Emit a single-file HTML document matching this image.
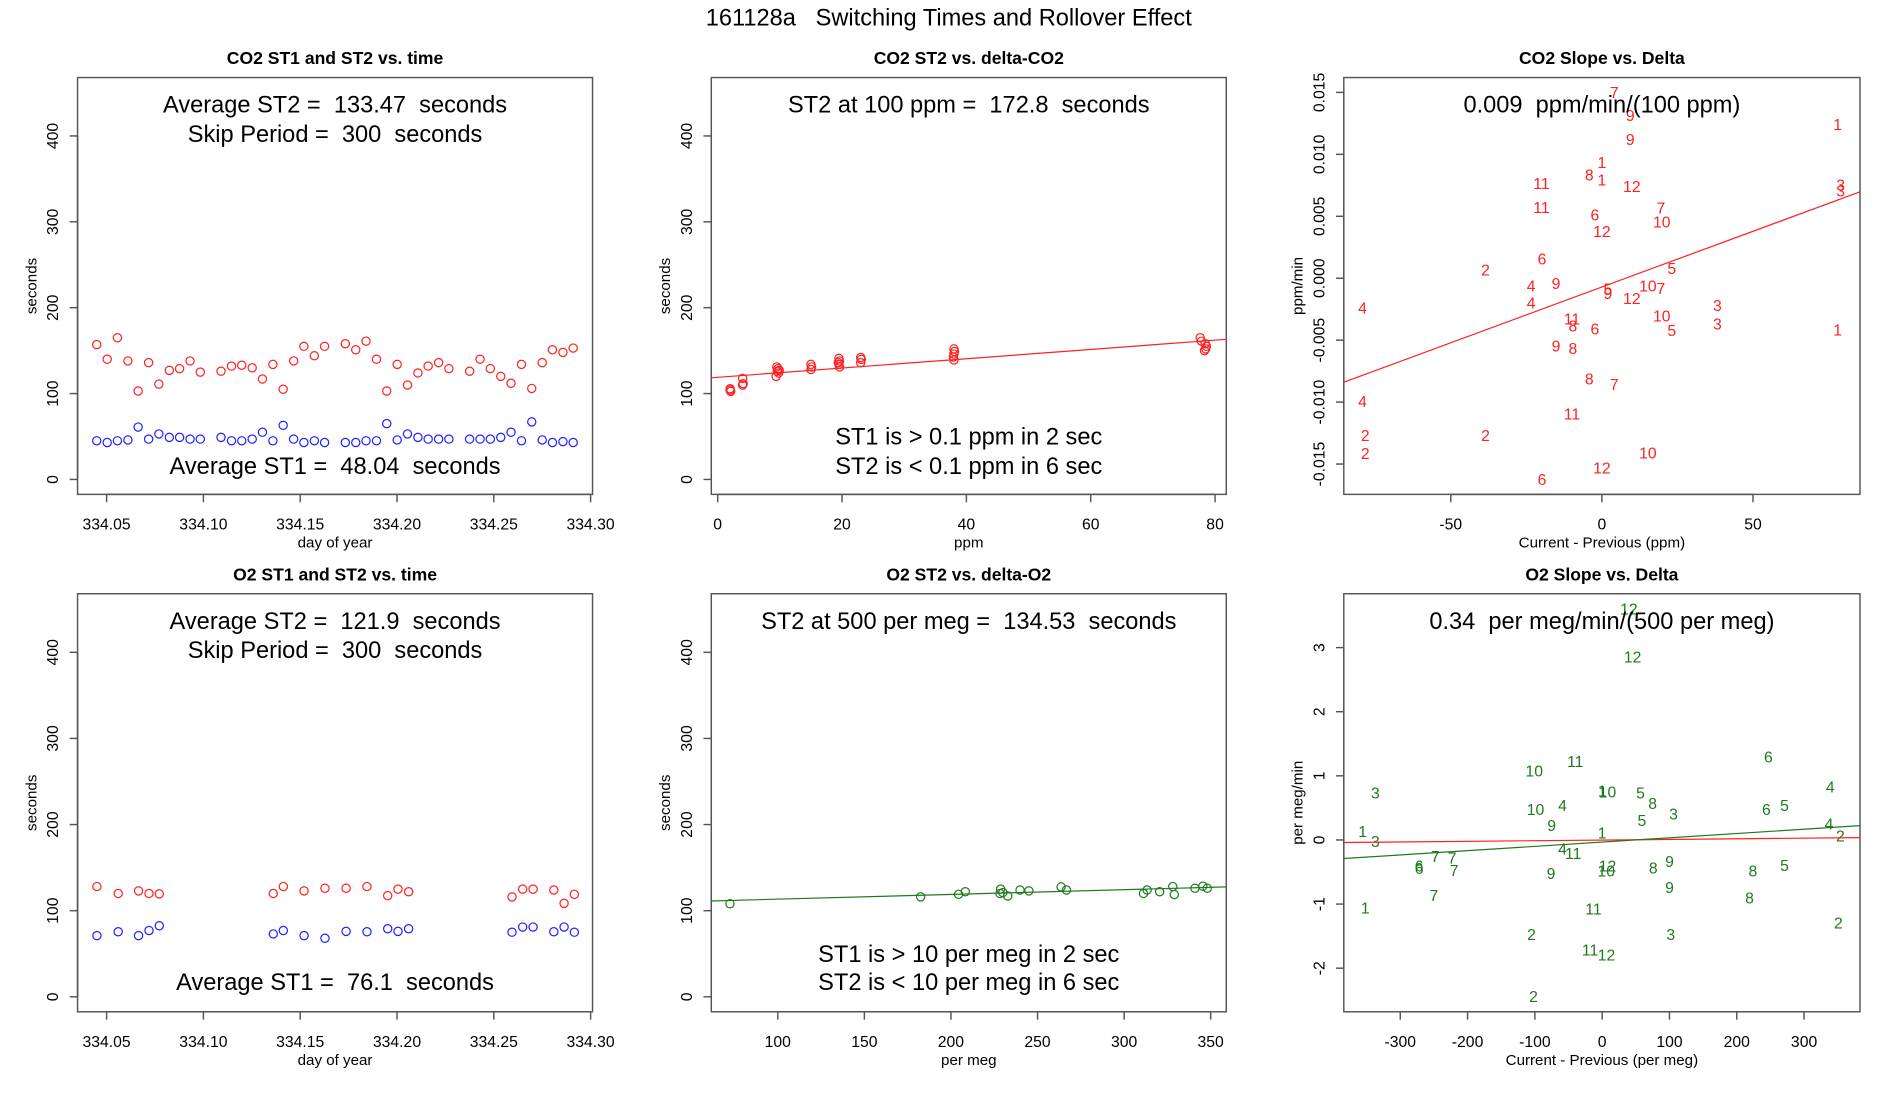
<!DOCTYPE html>
<html><head><meta charset="utf-8"><title>161128a Switching Times and Rollover Effect</title>
<style>
html,body{margin:0;padding:0;background:#fff;}
svg{display:block;}
text{font-family:"Liberation Sans",Arial,sans-serif;white-space:pre;}
</style></head>
<body>
<svg id="chart" xmlns="http://www.w3.org/2000/svg" width="1900" height="1100" viewBox="0 0 1568 907.8">
<rect x="0" y="0" width="1568" height="907.8" fill="#fff"/>
<text x="783" y="21" font-size="19.5" text-anchor="middle" xml:space="preserve">161128a   Switching Times and Rollover Effect</text>
</svg>
<script>
// ---- data ----
const co2Time = [334.0449,334.0503,334.0556,334.0610,334.0663,334.0717,334.0770,334.0824,334.0877,334.0931,334.0984,
334.1091,334.1145,334.1198,334.1252,334.1305,334.1359,334.1412,334.1466,334.1519,334.1573,334.1626,
334.1733,334.1787,334.1840,334.1894,334.1947,334.2001,334.2054,334.2108,334.2161,334.2215,334.2268,
334.2375,334.2429,334.2482,334.2536,334.2589,334.2643,334.2696,334.2750,334.2803,334.2857,334.2910];
const co2ST2 = [157,140,165,138,103,136,111,127,129,138,125,
126,132,133,130,117,134,105,138,155,144,155,
158,151,161,140,103,134,110,124,132,136,129,
126,140,129,120,112,134,106,136,151,148,153];
const co2ST1 = [45,43,45,46,61,47,53,49,49,47,47,
49,45,45,47,55,45,63,47,43,45,43,
43,43,45,45,65,46,53,49,47,47,47,
47,47,47,49,55,45,67,46,43,44,43];
const o2Time = [334.0450,334.0560,334.0665,334.0719,334.0772,334.1361,334.1413,334.1520,334.1628,334.1737,334.1845,334.1952,334.2005,334.2060,334.2594,334.2649,334.2703,334.2810,334.2863,334.2916];
const o2ST2 = [128,120,123,120,119.5,120,128,123,126,126,128,117.5,125,122,116,125,125,124,108.5,119];
const o2ST1 = [71,75.5,71,77,82.5,73,77,71,68,76,75.5,79,76,79,75,81,81,75.5,81,75];
const co2Delta = [2,2.1,2,4,4.1,4,9.5,9.7,9.9,9.6,9.8,9.4,15,15.1,15,19.5,19.6,19.4,19.5,19.6,23,23.1,23,38,38.1,38,37.9,38,77.6,77.8,78.4,78.6,78.5,78.3];
const co2DeltaST2 = [105.6,102.5,104,117.7,111.5,110,131,129,127,126,124,120,134,131,128,141,138,136,134,131,142,139.8,136,152,149,146,142.5,139,165,161,158,155,152,150];
const co2Fit = [118.9, 0.5413];
const o2Delta = [72.4,182.5,204.4,208.3,228.7,228.3,230,232.8,239.9,245,263.6,266.7,311.2,313.3,320.5,328.1,329,340.9,345.5,348];
const o2DeltaST2 = [108,116,119,122,125,120,121,117,124,123,127.6,124,120,124,122,128,118.7,126,128.4,126];
const o2Fit = [107.9, 0.0549];
const co2SlopeX = [4.1,9.4,78,9.4,0,-4.2,0,-20,9.9,79,79,-20,19.5,-2.3,19.8,0,-19.8,-38.5,23.1,-23.4,-15.2,2,2,15.2,19.5,9.9,-23.4,38.2,-79.2,19.8,-9.9,-9.6,-2.3,38.2,23.1,78,-15.2,-9.6,-4.2,4.1,-79.2,-9.9,-78.3,-38.5,-78.3,15.2,0,-19.8];
const co2SlopeY = [0.0150,0.01315,0.01244,0.01124,0.00936,0.00837,0.00797,0.00769,0.00745,0.00757,0.00708,0.00572,0.00569,0.00513,0.00455,0.00378,0.00156,0.00069,0.00082,-0.0006,-0.00039,-0.00085,-0.00122,-0.0006,-0.00079,-0.00162,-0.00196,-0.00217,-0.00238,-0.00304,-0.00328,-0.00384,-0.00408,-0.00365,-0.0042,-0.00414,-0.00544,-0.00566,-0.00812,-0.00856,-0.00991,-0.01093,-0.01269,-0.01266,-0.01414,-0.01408,-0.01528,-0.01624];
const co2SlopeLabel = ["7","9","1","9","1","8","1","11","12","3","3","11","7","6","10","12","6","2","5","4","9","5","9","10","7","12","4","3","4","10","11","8","6","3","5","1","9","8","8","7","4","11","2","2","2","10","12","6"];
const co2SlopeFit = [-0.00071, 0.00009];
const o2SlopeX = [39.7,45.3,247,-40,-101,339,-337,0,8,57,75,-99,-59,244,271,106,59,-75,-356,337,0,354,-337,-248,-223,-59,-43,100,-272,-272,-220,6,8,76,224,271,-76,100,-250,219,-352,-13,351,-105,102,-18,6.4,-102];
const o2SlopeY = [3.61,2.86,1.30,1.23,1.08,0.83,0.74,0.77,0.75,0.74,0.57,0.48,0.54,0.48,0.54,0.41,0.31,0.23,0.14,0.25,0.11,0.07,-0.02,-0.25,-0.28,-0.14,-0.21,-0.33,-0.40,-0.44,-0.47,-0.48,-0.40,-0.43,-0.48,-0.39,-0.52,-0.74,-0.86,-0.90,-1.06,-1.07,-1.29,-1.47,-1.47,-1.71,-1.79,-2.44];
const o2SlopeLabel = ["12","12","6","11","10","4","3","1","10","5","8","10","4","6","5","3","5","9","1","4","1","2","3","7","7","4","11","9","6","6","7","10","12","8","8","5","9","9","7","8","1","11","2","2","3","11","12","2"];
const o2SlopeFit = [-0.033, 0.000669];
const o2SlopeRefFit = [-0.002, 0.000099];
const timeTicks = [334.05,334.10,334.15,334.20,334.25,334.30];
const timeTickLabels = ["334.05","334.10","334.15","334.20","334.25","334.30"];
const secTicks = [0,100,200,300,400];
const secTickLabels = ["0","100","200","300","400"];
const ppmTicks = [0,20,40,60,80];
const pmTicks = [100,150,200,250,300,350];
const co2SlopeXTicks = [-50,0,50];
const co2SlopeYTicks = [-0.015,-0.010,-0.005,0,0.005,0.010,0.015];
const co2SlopeYTickLabels = ["-0.015","-0.010","-0.005","0.000","0.005","0.010","0.015"];
const o2SlopeXTicks = [-300,-200,-100,0,100,200,300];
const o2SlopeYTicks = [-2,-1,0,1,2,3];

// ---- drawing ----
const NS = "http://www.w3.org/2000/svg";
const svg = document.getElementById("chart");
function mk(tag, attrs, parent){
  const e = document.createElementNS(NS, tag);
  for (const k in attrs) e.setAttribute(k, attrs[k]);
  (parent||svg).appendChild(e);
  return e;
}
function scale(d0,d1,r0,r1){ return v => r0 + (v-d0)/(d1-d0)*(r1-r0); }

function makePanel(name, box, xd, yd, title, xt, xtl, yt, ytl, xlab, ylab){
  const g = mk("g", {});
  
  
  const sx = scale(xd[0], xd[1], box[0], box[2]);
  const sy = scale(yd[0], yd[1], box[3], box[1]);
  const t = mk("text", {x:(box[0]+box[2])/2, y:box[1]-11, "font-size":14.5, "font-weight":"bold", "text-anchor":"middle"}, g);
  t.textContent = title;
  
  
  const fr = mk("rect", {x:box[0], y:box[1], width:box[2]-box[0], height:box[3]-box[1], fill:"none", stroke:"#555", "stroke-width":1.2}, g);
  
  
  const xa = mk("g", {}, g);
  
  
  mk("line", {x1:sx(xt[0]), x2:sx(xt[xt.length-1]), y1:box[3], y2:box[3], stroke:"#555", "stroke-width":1.2}, xa);
  xt.forEach((v,i) => {
    mk("line", {x1:sx(v), x2:sx(v), y1:box[3], y2:box[3]+6.5, stroke:"#555", "stroke-width":1.2}, xa);
    const tl = mk("text", {x:sx(v), y:box[3]+29, "font-size":13, "text-anchor":"middle"}, xa);
    tl.textContent = xtl[i];
    
    
  });
  const xl = mk("text", {x:(box[0]+box[2])/2, y:box[3]+44, "font-size":12.5, "text-anchor":"middle"}, g);
  xl.textContent = xlab;
  
  
  const ya = mk("g", {}, g);
  
  
  mk("line", {x1:box[0], x2:box[0], y1:sy(yt[0]), y2:sy(yt[yt.length-1]), stroke:"#555", "stroke-width":1.2}, ya);
  yt.forEach((v,i) => {
    mk("line", {x1:box[0]-6.5, x2:box[0], y1:sy(v), y2:sy(v), stroke:"#555", "stroke-width":1.2}, ya);
    const lx = box[0]-16, ly = sy(v);
    const tl = mk("text", {x:lx, y:ly, "font-size":13, "text-anchor":"middle", transform:`rotate(-90 ${lx} ${ly})`}, ya);
    tl.textContent = ytl[i];
    
    
  });
  const yx = box[0]-34, yy = (box[1]+box[3])/2;
  const yl = mk("text", {x:yx, y:yy, "font-size":12.5, "text-anchor":"middle", transform:`rotate(-90 ${yx} ${yy})`}, g);
  yl.textContent = ylab;
  
  
  return {g, sx, sy, box};
}
function bigText(p, txt, y, nm){
  const t = mk("text", {x:(p.box[0]+p.box[2])/2, y:y+7, "font-size":19.5, "text-anchor":"middle"}, p.g);
  t.textContent = txt;
  
  
}
function circles(p, xs, ys, color, nm){
  const g = mk("g", {}, p.g);
  
  
  xs.forEach((x,i) => {
    const c = mk("circle", {cx:p.sx(x), cy:p.sy(ys[i]), r:3.4, fill:"none", stroke:color, "stroke-width":1}, g);
    
    
  });
}
function fitLine(p, fit, xd, color, nm){
  const clip = mk("clipPath", {id:nm+"-clip"}, p.g);
  mk("rect", {x:p.box[0], y:p.box[1], width:p.box[2]-p.box[0], height:p.box[3]-p.box[1]}, clip);
  const l = mk("line", {x1:p.sx(xd[0]), y1:p.sy(fit[0]+fit[1]*xd[0]), x2:p.sx(xd[1]), y2:p.sy(fit[0]+fit[1]*xd[1]), stroke:color, "stroke-width":1, "clip-path":`url(#${nm}-clip)`}, p.g);
  
  
}
function labels(p, xs, ys, lbs, color, nm){
  const g = mk("g", {}, p.g);
  
  
  xs.forEach((x,i) => {
    const t = mk("text", {x:p.sx(x), y:p.sy(ys[i])+4.8, "font-size":13, "text-anchor":"middle", fill:color}, g);
    t.textContent = lbs[i];
    
    
  });
}

const RED = "#ff2020", BLUE = "#2020ff", GREEN = "#1f7a1f";
const ROW1 = [64, 408], ROW2 = [490, 835];
const COL = [[64,489],[587,1012],[1109,1535]];
const secDom = [-17.4, 468];

const p1 = makePanel("co2-time-panel", [COL[0][0],ROW1[0],COL[0][1],ROW1[1]], [334.035,334.301], secDom,
  "CO2 ST1 and ST2 vs. time", timeTicks, timeTickLabels, secTicks, secTickLabels, "day of year", "seconds");
circles(p1, co2Time, co2ST2, RED, "co2-st2-series");
circles(p1, co2Time, co2ST1, BLUE, "co2-st1-series");
bigText(p1, "Average ST2 =  133.47  seconds", 86, "co2-avg-st2-text");
bigText(p1, "Skip Period =  300  seconds", 110, "co2-skip-text");
bigText(p1, "Average ST1 =  48.04  seconds", 384, "co2-avg-st1-text");

const p2 = makePanel("co2-delta-panel", [COL[1][0],ROW1[0],COL[1][1],ROW1[1]], [-1.03,81.8], secDom,
  "CO2 ST2 vs. delta-CO2", ppmTicks, ppmTicks.map(String), secTicks, secTickLabels, "ppm", "seconds");
circles(p2, co2Delta, co2DeltaST2, RED, "co2-delta-st2-series");
fitLine(p2, co2Fit, [-1.03,81.8], RED, "co2-delta-fit-line");
bigText(p2, "ST2 at 100 ppm =  172.8  seconds", 86, "co2-st2-at-100-text");
bigText(p2, "ST1 is > 0.1 ppm in 2 sec", 360, "co2-st1-note");
bigText(p2, "ST2 is < 0.1 ppm in 6 sec", 384, "co2-st2-note");

const p3 = makePanel("co2-slope-panel", [COL[2][0],ROW1[0],COL[2][1],ROW1[1]], [-85.4,85.4], [-0.01745,0.0162],
  "CO2 Slope vs. Delta", co2SlopeXTicks, co2SlopeXTicks.map(String), co2SlopeYTicks, co2SlopeYTickLabels, "Current - Previous (ppm)", "ppm/min");
labels(p3, co2SlopeX, co2SlopeY, co2SlopeLabel, RED, "co2-slope-points");
fitLine(p3, co2SlopeFit, [-85.4,85.4], RED, "co2-slope-fit-line");
bigText(p3, "0.009  ppm/min/(100 ppm)", 86, "co2-slope-text");

const p4 = makePanel("o2-time-panel", [COL[0][0],ROW2[0],COL[0][1],ROW2[1]], [334.035,334.301], secDom,
  "O2 ST1 and ST2 vs. time", timeTicks, timeTickLabels, secTicks, secTickLabels, "day of year", "seconds");
circles(p4, o2Time, o2ST2, RED, "o2-st2-series");
circles(p4, o2Time, o2ST1, BLUE, "o2-st1-series");
bigText(p4, "Average ST2 =  121.9  seconds", 512, "o2-avg-st2-text");
bigText(p4, "Skip Period =  300  seconds", 536, "o2-skip-text");
bigText(p4, "Average ST1 =  76.1  seconds", 810, "o2-avg-st1-text");

const p5 = makePanel("o2-delta-panel", [COL[1][0],ROW2[0],COL[1][1],ROW2[1]], [61.6,359], secDom,
  "O2 ST2 vs. delta-O2", pmTicks, pmTicks.map(String), secTicks, secTickLabels, "per meg", "seconds");
circles(p5, o2Delta, o2DeltaST2, GREEN, "o2-delta-st2-series");
fitLine(p5, o2Fit, [61.6,359], GREEN, "o2-delta-fit-line");
bigText(p5, "ST2 at 500 per meg =  134.53  seconds", 512, "o2-st2-at-500-text");
bigText(p5, "ST1 is > 10 per meg in 2 sec", 787, "o2-st1-note");
bigText(p5, "ST2 is < 10 per meg in 6 sec", 810, "o2-st2-note");

const p6 = makePanel("o2-slope-panel", [COL[2][0],ROW2[0],COL[2][1],ROW2[1]], [-383.9,383.1], [-2.68,3.84],
  "O2 Slope vs. Delta", o2SlopeXTicks, o2SlopeXTicks.map(String), o2SlopeYTicks, o2SlopeYTicks.map(String), "Current - Previous (per meg)", "per meg/min");
labels(p6, o2SlopeX, o2SlopeY, o2SlopeLabel, GREEN, "o2-slope-points");
fitLine(p6, o2SlopeRefFit, [-383.9,383.1], RED, "o2-slope-reference-line");
fitLine(p6, o2SlopeFit, [-383.9,383.1], GREEN, "o2-slope-fit-line");
bigText(p6, "0.34  per meg/min/(500 per meg)", 512, "o2-slope-text");
</script>
</body></html>
